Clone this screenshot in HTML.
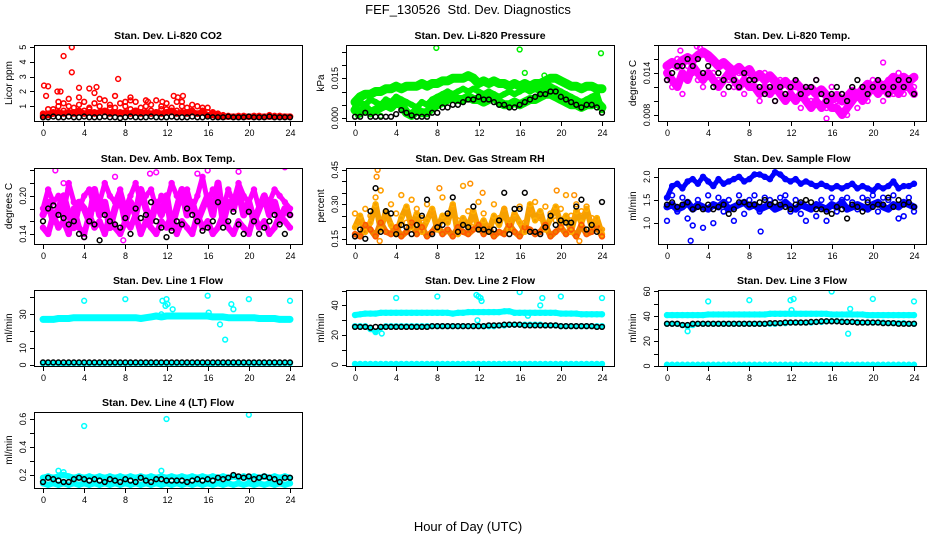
<!DOCTYPE html>
<html><head><meta charset="utf-8"><style>
body{margin:0;background:#fff;}
svg{display:block;font-family:"Liberation Sans",Arial,sans-serif;}
</style></head><body>
<svg id="chart" width="936" height="540" viewBox="0 0 936 540">
<rect width="936" height="540" fill="#fff"/>
<text x="468" y="14" text-anchor="middle" font-size="13" style="white-space:pre">FEF_130526  Std. Dev. Diagnostics</text>
<text x="468" y="531" text-anchor="middle" font-size="13">Hour of Day (UTC)</text>
</svg>
<script>
// ---- data ----
const xTicks = [0,4,8,12,16,20,24];
// CO2
const co2A = [0.3,0.5,0.8,1.0,1.2,1.0,0.9,1.1,1.3,0.9,1.2,1.0,1.4,1.1,0.9,1.2,1.0,0.8,1.3,0.9,1.0,1.1,1.4,1.0,0.8,0.9,1.3,1.0,0.9,1.1,1.0,0.7,0.9,0.6,0.5,0.4,0.35,0.3,0.3,0.35,0.3,0.3,0.35,0.3,0.4,0.3,0.35,0.3,0.3];
const co2B = [0.4,0.8,0.6,1.3,0.7,1.5,0.6,1.6,0.7,0.8,0.6,1.5,0.6,0.9,1.7,0.6,1.3,1.6,0.7,0.6,1.4,0.7,0.6,0.8,1.2,0.6,0.7,1.3,0.6,0.7,0.5,0.9,0.6,0.5,0.4,0.3,0.3,0.3,0.35,0.3,0.3,0.35,0.3,0.3,0.3,0.35,0.3,0.3,0.3];
const co2C = [0.5,0.4,0.5,0.6,0.5,0.6,0.5,0.7,0.5,0.6,0.5,0.6,0.7,0.5,0.6,0.5,0.6,0.5,0.7,0.5,0.6,0.5,0.6,0.5,0.6,0.7,0.5,0.6,0.5,0.6,0.5,0.6,0.4,0.4,0.3,0.3,0.3,0.3,0.3,0.3,0.3,0.3,0.3,0.3,0.3,0.3,0.3,0.3,0.3];
const co2OutX = [0.1,0.5,0.3,1.4,1.7,2.0,2.8,2.8,3.5,4.5,5.0,5.2,7.3,8.5,11.6,12.7,13.1,13.6,10.2];
const co2OutY = [2.4,2.35,1.7,2.0,2.0,4.4,3.3,5.0,2.25,2.2,1.9,2.3,2.85,1.4,1.3,1.7,1.6,1.7,1.3];
const co2K = [0.25,0.25,0.3,0.25,0.25,0.3,0.25,0.25,0.3,0.25,0.25,0.25,0.3,0.25,0.25,0.2,0.25,0.3,0.25,0.25,0.25,0.3,0.25,0.25,0.25,0.3,0.25,0.25,0.25,0.3,0.25,0.25,0.3,0.25,0.25,0.25,0.3,0.25,0.25,0.25,0.3,0.25,0.25,0.25,0.3,0.25,0.25,0.25,0.25];
// Pressure
const prA = [.006,.008,.009,.009,.010,.010,.011,.011,.012,.011,.012,.012,.012,.013,.012,.013,.013,.014,.014,.015,.015,.015,.016,.015,.013,.014,.013,.014,.013,.013,.012,.013,.012,.013,.012,.013,.013,.014,.015,.015,.014,.013,.012,.012,.011,.012,.012,.011,.011];
const prB = [.003,.002,.004,.002,.003,.004,.005,.004,.006,.005,.002,.001,.003,.002,.002,.004,.005,.006,.007,.008,.007,.007,.008,.007,.007,.006,.007,.008,.006,.005,.005,.006,.005,.006,.007,.007,.008,.009,.009,.008,.007,.006,.005,.005,.004,.005,.005,.006,.004];
const prC = [.004,.006,.005,.007,.006,.005,.007,.006,.008,.007,.006,.005,.004,.006,.005,.007,.008,.009,.010,.009,.010,.011,.010,.011,.010,.009,.010,.009,.008,.009,.010,.009,.010,.011,.010,.011,.010,.011,.012,.011,.010,.009,.008,.007,.006,.007,.008,.009,.003];
const prOutX = [7.9,16,23.9,16.5,18.4,0.3,2.5];
const prOutY = [.0264,.0258,.0244,.0170,.0160,.0010,.0008];
const prK = [.0005,.0005,.002,.0005,.0005,.0005,.0005,.0005,.0015,.003,.002,.001,.0005,.0005,.0005,.002,.002,.004,.004,.005,.005,.006,.007,.007,.008,.007,.007,.006,.005,.005,.004,.004,.005,.006,.007,.008,.009,.009,.010,.010,.008,.007,.006,.005,.004,.005,.005,.004,.002];
// Li-820 temp
const ltA = [.0150,.0155,.0150,.0158,.0162,.0158,.0165,.0170,.0165,.0158,.0150,.0155,.0148,.0142,.0148,.0140,.0145,.0132,.0138,.0130,.0136,.0128,.0122,.0128,.0120,.0126,.0118,.0112,.0118,.0110,.0116,.0108,.0102,.0108,.0100,.0106,.0114,.0108,.0116,.0124,.0118,.0126,.0120,.0126,.0134,.0126,.0134,.0128,.0134];
const ltB = [.014,.013,.012,.014,.013,.015,.014,.013,.014,.013,.012,.013,.014,.013,.012,.013,.012,.012,.011,.012,.011,.012,.011,.010,.011,.010,.011,.010,.009,.010,.009,.010,.009,.009,.008,.009,.010,.011,.010,.011,.012,.011,.012,.011,.012,.011,.012,.012,.011];
const ltC = [.013,.012,.016,.011,.015,.014,.013,.012,.016,.014,.013,.011,.013,.012,.014,.011,.013,.012,.010,.014,.012,.010,.013,.011,.012,.012,.009,.012,.010,.013,.011,.009,.012,.010,.011,.008,.011,.009,.012,.010,.013,.012,.010,.013,.011,.014,.011,.013,.012];
const ltOutX = [1.3,2.9,3.2,15.5,21.0];
const ltOutY = [.0172,.0178,.0176,.0075,.0155];
const ltK = [.013,.014,.015,.015,.016,.015,.016,.014,.015,.012,.014,.013,.012,.013,.012,.014,.013,.013,.012,.011,.012,.010,.012,.011,.012,.013,.011,.012,.012,.013,.011,.010,.011,.012,.011,.010,.012,.013,.012,.011,.012,.013,.012,.011,.012,.013,.012,.013,.011];
// Amb box temp
const abA = [.17,.19,.16,.18,.20,.17,.15,.19,.18,.16,.21,.17,.19,.15,.18,.20,.16,.19,.17,.21,.18,.16,.19,.17,.20,.15,.18,.21,.17,.19,.16,.18,.20,.17,.22,.16,.19,.18,.21,.17,.19,.16,.18,.20,.17,.19,.16,.18,.17];
const abB = [.15,.14,.17,.15,.16,.14,.18,.15,.14,.17,.15,.16,.14,.17,.15,.14,.16,.15,.17,.14,.16,.15,.14,.16,.15,.17,.14,.16,.15,.14,.17,.15,.16,.14,.15,.17,.15,.14,.16,.15,.14,.17,.15,.16,.14,.15,.17,.16,.15];
const abC = [.18,.21,.19,.20,.17,.22,.19,.18,.20,.21,.18,.19,.22,.20,.19,.21,.18,.20,.22,.19,.20,.21,.18,.20,.19,.22,.20,.19,.21,.18,.20,.23,.19,.21,.20,.18,.21,.19,.22,.20,.19,.21,.18,.20,.19,.21,.20,.19,.18];
const abOutX = [1.2,10.4,15,16,19,2,7,11,7.8,4,23.5];
const abOutY = [.24,.235,.235,.24,.238,.22,.23,.237,.13,.135,.245];
const abK = [.16,.18,.185,.17,.165,.155,.16,.14,.135,.16,.155,.13,.17,.16,.155,.15,.165,.14,.18,.165,.17,.19,.16,.15,.135,.145,.16,.155,.18,.17,.16,.145,.15,.16,.19,.15,.16,.175,.155,.14,.175,.16,.14,.15,.16,.17,.155,.14,.17];
// Gas stream RH
const rhA = [.20,.25,.18,.22,.30,.19,.27,.21,.17,.24,.29,.20,.26,.18,.23,.28,.19,.25,.22,.30,.17,.24,.20,.27,.19,.23,.18,.25,.21,.28,.19,.26,.22,.18,.30,.23,.27,.19,.24,.29,.21,.25,.18,.27,.22,.28,.20,.24,.17];
const rhB = [.17,.16,.21,.19,.16,.22,.18,.17,.20,.16,.18,.22,.17,.20,.16,.18,.21,.17,.19,.16,.20,.18,.17,.19,.21,.17,.20,.16,.18,.17,.21,.18,.16,.20,.19,.17,.18,.21,.16,.18,.20,.17,.19,.16,.21,.17,.18,.20,.16];
const rhC = [.26,.22,.28,.25,.33,.36,.24,.30,.26,.34,.22,.32,.28,.24,.30,.26,.21,.33,.25,.29,.23,.38,.27,.22,.31,.26,.20,.30,.24,.28,.23,.25,.29,.22,.27,.31,.24,.29,.26,.23,.28,.34,.25,.30,.27,.29,.24,.22,.19];
const rhOutX = [2.2,2.1,8.2,11.2,12.4,19.6,21.3,2.4,21.8];
const rhOutY = [.45,.42,.37,.39,.35,.36,.34,.14,.14];
const rhK = [.16,.19,.15,.27,.37,.18,.27,.26,.17,.21,.20,.17,.21,.25,.32,.17,.20,.21,.26,.33,.18,.21,.20,.29,.19,.19,.18,.19,.23,.35,.17,.28,.28,.35,.18,.18,.17,.20,.25,.21,.23,.22,.22,.29,.32,.19,.21,.18,.31];
// Sample flow
const sfA = [1.35,1.40,1.30,1.35,1.45,1.30,1.40,1.35,1.30,1.40,1.35,1.45,1.30,1.35,1.40,1.45,1.35,1.40,1.30,1.35,1.40,1.30,1.35,1.45,1.35,1.30,1.40,1.35,1.30,1.40,1.35,1.30,1.40,1.35,1.45,1.30,1.35,1.40,1.35,1.30,1.40,1.45,1.35,1.30,1.40,1.35,1.45,1.40,1.35];
const sfB = [1.55,1.80,1.85,1.75,1.90,1.95,1.85,2.00,1.90,1.80,1.95,1.85,1.90,1.95,2.00,1.90,1.95,2.05,2.05,2.00,1.95,2.10,2.05,1.95,1.90,1.95,1.85,1.90,1.85,1.80,1.85,1.80,1.75,1.80,1.75,1.80,1.85,1.75,1.80,1.75,1.70,1.80,1.75,1.80,1.90,1.75,1.80,1.80,1.85];
const sfC = [1.05,1.60,1.25,1.55,1.10,0.95,1.50,0.90,1.60,1.00,1.55,1.25,1.50,1.05,1.60,1.20,1.50,1.60,1.25,1.55,1.50,1.45,1.55,1.60,1.25,1.50,1.20,1.05,1.30,1.15,1.50,1.05,1.55,1.25,1.50,1.55,1.45,1.30,1.55,1.50,1.60,1.25,1.55,1.50,1.60,1.10,1.15,1.55,1.25];
const sfOutX = [2.3,9.1];
const sfOutY = [0.62,0.82];
const sfK = [1.40,1.45,1.35,1.40,1.45,1.30,1.35,1.30,1.40,1.30,1.35,1.40,1.20,1.30,1.45,1.45,1.40,1.40,1.45,1.50,1.40,1.45,1.40,1.35,1.30,1.40,1.45,1.50,1.45,1.30,1.30,1.25,1.20,1.35,1.30,1.10,1.40,1.35,1.25,1.45,1.35,1.40,1.40,1.55,1.35,1.50,1.40,1.45,1.35];
// Line 1 flow
const l1A = [27,27,27,27.5,27.5,27.5,28,28,28,28,28,28,28,28,28,28,28,28,28,27.5,28,28.5,29,28.5,29,29,29,29,29,29,29,29,29,28.5,28.5,28.5,28,28,28,28,28,28,27.5,27.5,27.5,27.5,27,27,27];
const l1B = [1,1,1,1,0.5,1,1,1,1,1,1,1,1,1,1,1,1,1,1,1,1,1,1,1,1,1,1,1,1,1,1,1,0.5,1,1,1,1,1,1,1,1,1,1,1,1,1,1,1,1];
const l1OutX = [4,8,11.6,12,11.9,12.1,12.6,16,16.1,11.5,17.2,18.3,18.5,17.7,20,24];
const l1OutY = [38,39,38,39,35,36,33,41,31,30,24,36,33,15,39,38];
const l1K = [1.5,1.5,1.5,1.5,1.5,1.5,1.5,1.5,1.5,1.5,1.5,1.5,1.5,1.5,1.5,1.5,1.5,1.5,1.5,1.5,1.5,1.5,1.5,1.5,1.5,1.5,1.5,1.5,1.5,1.5,1.5,1.5,1.5,1.5,1.5,1.5,1.5,1.5,1.5,1.5,1.5,1.5,1.5,1.5,1.5,1.5,1.5,1.5,1.5];
// Line 2 flow
const l2A = [33.5,34,34.5,34.5,34.5,35,35,35,35,35,35,35,35,35,35,35,35,35,35,34.5,35,35,35.5,35.5,35.5,35.5,35.5,35.5,35.5,36,36,35,35,35,35,35,35,35,35,35,34.5,34.5,34.5,34.5,34,34,34,34,34];
const l2B = [26,26,26,24,22,25,26,26,26,26,26,26,26,26,26,26,26,26,26,26,26,26,26,26,26,26,26,26,26.5,26.5,27,27,27,27,27,27,27,26.5,26.5,26.5,26,26,26,26,26,26,26,26,26];
const l2C = [0.5,0.5,0.5,0.5,0.5,0.5,0.5,0.5,0.5,0.5,0.5,0.5,0.5,0.5,0.5,0.5,0.5,0.5,0.5,0.5,0.5,0.5,0.5,0.5,0.5,0.5,0.5,0.5,0.5,0.5,0.5,0.5,0.5,0.5,0.5,0.5,0.5,0.5,0.5,0.5,0.5,0.5,0.5,0.5,0.5,0.5,0.5,0.5,0.5];
const l2OutX = [4,8,11.8,12,12.2,12.3,16,18.2,18,20,24,11.9,2.6,16.8];
const l2OutY = [45,46,47,46,45,43,49,45,40,46,45,30,21,33];
const l2K = [25.5,25.5,25.5,25,25.5,25.5,25.5,25.5,25.5,25.5,25.5,25.5,25.5,25.5,25.5,26,26,26,26,26,26,26,26,26,26,26,26.5,26.5,26.5,27,27,27,27,26.5,26.5,26.5,26.5,26.5,26.5,26.5,26,26,26,26,26,26,26,25.5,25.5];
// Line 3 flow
const l3A = [41,41,41,41,41,41,41,41,41.5,41.5,41.5,41.5,41.5,41.5,41.5,41.5,41.5,41.5,41.5,41.5,42,42,42,42,42,42,42,42,42,42,42,42,41.5,41.5,41.5,41.5,41.5,41.5,41.5,41,41,41,41,41,41,41,41,41,41];
const l3B = [34,34,34,33,32,33,34,34,34,34,34,34,34,34,34,34,34,34,34,34,34,34,34.5,34.5,35,35,35,35,35,35.5,35.5,36,36,36,36,35.5,35.5,35.5,35,35,35,35,35,34.5,34.5,34.5,34.5,34,34];
const l3C = [1,1,1,1,1,1,1,1,1,1,1,1,1,1,1,1,1,1,1,1,1,1,1,1,1,1,1,1,1,1,1,1,1,1,1,1,1,1,1,1,1,1,1,1,1,1,1,1,1];
const l3OutX = [4,8,12,12.3,16,20,24,2,17.6,17.8,12.1];
const l3OutY = [52,53,53,54,60,54,52,28,26,46,45];
const l3K = [34,34,34,33,33,34,34,34,34,34,34,34,34,34,34,34,34,34,34,34,34.5,34.5,34.5,35,35,35,35,35,35.5,35.5,36,36,36,36,35.5,35.5,35.5,35,35,35,35,35,34.5,34.5,34.5,34,34,34,34];
// Line 4 flow
const l4A = [.18,.19,.18,.19,.20,.19,.18,.19,.18,.19,.18,.19,.18,.19,.18,.19,.18,.19,.18,.19,.18,.19,.18,.19,.18,.19,.18,.19,.18,.19,.18,.19,.18,.19,.18,.19,.18,.19,.18,.19,.18,.19,.18,.19,.18,.19,.18,.19,.18];
const l4B = [.14,.13,.14,.13,.14,.13,.14,.13,.14,.13,.14,.13,.14,.13,.14,.13,.14,.13,.14,.13,.14,.13,.14,.13,.14,.13,.14,.13,.14,.13,.14,.13,.14,.13,.14,.13,.14,.13,.14,.13,.14,.13,.14,.13,.14,.13,.14,.13,.14];
const l4OutX = [4,12,20,1.5,2,11.5];
const l4OutY = [0.55,0.60,0.63,0.23,0.22,0.23];
const l4K = [.15,.18,.17,.16,.15,.15,.17,.18,.17,.16,.17,.16,.15,.17,.16,.15,.17,.16,.15,.18,.16,.15,.17,.17,.16,.16,.16,.16,.15,.16,.17,.16,.17,.16,.18,.17,.18,.20,.19,.18,.19,.17,.18,.19,.18,.17,.15,.18,.18];

// ---- drawing ----
const NS = "http://www.w3.org/2000/svg";
const svg = document.getElementById("chart");
function mk(tag, attrs, parent){
  const e = document.createElementNS(NS, tag);
  for (const k in attrs) e.setAttribute(k, attrs[k]);
  (parent||svg).appendChild(e);
  return e;
}
function hourAt(i, n){ return i * 24 / (n - 1); }

const panels = [
 {key:"co2", title:"Stan. Dev. Li-820 CO2", ylab:"Licor ppm", col:0, row:0, y0:0, y1:5.15, ticks:[1,2,3,4,5], labels:[1,2,3,4,5], fmt:v=>String(v),
  bands:[[co2A,"#ff0000"],[co2B,"#ff0000"],[co2C,"#ff0000"]], thick:[[co2C,"#ff0000",6]], out:[co2OutX,co2OutY,"#ff0000"], black:co2K},
 {key:"pressure", title:"Stan. Dev. Li-820 Pressure", ylab:"kPa", col:1, row:0, y0:-0.0011, y1:0.0275, ticks:[0,.005,.01,.015,.02,.025], labels:[0,.015], fmt:v=>v.toFixed(3),
  bands:[[prA,"#00ee00"],[prB,"#00ee00"],[prC,"#00ee00"]], thick:[[prA,"#00ee00",9],[prB,"#00ee00",9],[prC,"#00ee00",6]], out:[prOutX,prOutY,"#00ee00"], black:prK},
 {key:"li820-temp", title:"Stan. Dev. Li-820 Temp.", ylab:"degrees C", col:2, row:0, y0:0.00714, y1:0.0180, ticks:[.008,.010,.012,.014,.016,.018], labels:[.008,.014], fmt:v=>v.toFixed(3),
  bands:[[ltA,"#ff00ff"],[ltB,"#ff00ff"],[ltC,"#ff00ff"]], thick:[[ltA,"#ff00ff",9],[ltB,"#ff00ff",8]], out:[ltOutX,ltOutY,"#ff00ff"], black:ltK},
 {key:"amb-box-temp", title:"Stan. Dev. Amb. Box Temp.", ylab:"degrees C", col:0, row:1, y0:0.1242, y1:0.2438, ticks:[.14,.16,.18,.20,.22,.24], labels:[.14,.20], fmt:v=>v.toFixed(2),
  bands:[[abA,"#ff00ff"],[abB,"#ff00ff"],[abC,"#ff00ff"]], thick:[[abA,"#ff00ff",7],[abB,"#ff00ff",6],[abC,"#ff00ff",5]], out:[abOutX,abOutY,"#ff00ff"], black:abK},
 {key:"gas-rh", title:"Stan. Dev. Gas Stream RH", ylab:"percent", col:1, row:1, y0:0.127, y1:0.458, ticks:[.15,.20,.25,.30,.35,.40,.45], labels:[.15,.30,.45], fmt:v=>v.toFixed(2),
  bands:[[rhA,"#ffb000"],[rhB,"#ff5500"],[rhC,"#ffa000"]], thick:[[rhA,"#f5a000",6],[rhB,"#f08000",6]], out:[rhOutX,rhOutY,"#ff9000"], black:rhK},
 {key:"sample-flow", title:"Stan. Dev. Sample Flow", ylab:"ml/min", col:2, row:1, y0:0.55, y1:2.19, ticks:[1,1.5,2], labels:[1,1.5,2], fmt:v=>v.toFixed(1),
  bands:[[sfA,"#0000ff"],[sfB,"#0000ff"],[sfC,"#0000ff"]], thick:[[sfA,"#0000ff",7],[sfB,"#0000ff",5]], out:[sfOutX,sfOutY,"#0000ff"], black:sfK},
 {key:"line1-flow", title:"Stan. Dev. Line 1 Flow", ylab:"ml/min", col:0, row:2, y0:-0.6, y1:44.4, ticks:[0,10,20,30,40], labels:[0,10,30], fmt:v=>String(v),
  bands:[[l1A,"#00ffff"],[l1B,"#00ffff"]], thick:[[l1A,"#00ffff",7],[l1B,"#00ffff",4]], out:[l1OutX,l1OutY,"#00ffff"], black:l1K},
 {key:"line2-flow", title:"Stan. Dev. Line 2 Flow", ylab:"ml/min", col:1, row:2, y0:-0.9, y1:50.4, ticks:[0,10,20,30,40,50], labels:[0,20,40], fmt:v=>String(v),
  bands:[[l2A,"#00ffff"],[l2B,"#00ffff"],[l2C,"#00ffff"]], thick:[[l2A,"#00ffff",6],[l2B,"#00ffff",4],[l2C,"#00ffff",4]], out:[l2OutX,l2OutY,"#00ffff"], black:l2K},
 {key:"line3-flow", title:"Stan. Dev. Line 3 Flow", ylab:"ml/min", col:2, row:2, y0:0, y1:61.2, ticks:[0,10,20,30,40,50,60], labels:[0,20,40,60], fmt:v=>String(v),
  bands:[[l3A,"#00ffff"],[l3B,"#00ffff"],[l3C,"#00ffff"]], thick:[[l3A,"#00ffff",6],[l3B,"#00ffff",4],[l3C,"#00ffff",4]], out:[l3OutX,l3OutY,"#00ffff"], black:l3K},
 {key:"line4-flow", title:"Stan. Dev. Line 4 (LT) Flow", ylab:"ml/min", col:0, row:3, y0:0.107, y1:0.650, ticks:[.2,.3,.4,.5,.6], labels:[.2,.4,.6], fmt:v=>v.toFixed(1),
  bands:[[l4A,"#00ffff"],[l4B,"#00ffff"]], thick:[[l4A,"#00ffff",6],[l4B,"#00ffff",6]], out:[l4OutX,l4OutY,"#00ffff"], black:l4K}
];

const colLeft = [34, 346, 658];
const rowTop = [45, 168, 290, 412];
const W = 268, H = 76;

panels.forEach(p => {
  const L = colLeft[p.col], T = rowTop[p.row], B = T + H, R = L + W;
  const g = mk("g", {});
  
  
  const xs = h => L + 9 + h * (247 / 24);
  const ys = v => B - (v - p.y0) / (p.y1 - p.y0) * H;
  const clip = "clip-" + p.key;
  const cp = mk("clipPath", {id: clip}, g);
  mk("rect", {x: L, y: T, width: W, height: H}, cp);
  const marks = mk("g", {"clip-path": "url(#" + clip + ")"}, g);
  
  
  p.thick.forEach(([arr, col, w]) => {
    const pts = arr.map((v, i) => xs(hourAt(i, arr.length)).toFixed(1) + "," + ys(v).toFixed(1)).join(" ");
    const pl = mk("polyline", {points: pts, fill: "none", stroke: col, "stroke-width": w, "stroke-linejoin": "round", "stroke-linecap": "round"}, marks);
    
    
  });
  p.bands.forEach(([arr, col]) => {
    arr.forEach((v, i) => {
      const c = mk("circle", {cx: xs(hourAt(i, arr.length)), cy: ys(v), r: 2.4, fill: "none", stroke: col, "stroke-width": 1.6}, marks);
      
      
    });
  });
  const [ox, oy, oc] = p.out;
  for (let i = 0; i < Math.min(ox.length, oy.length); i++) {
    const c = mk("circle", {cx: xs(ox[i]), cy: ys(oy[i]), r: 2.4, fill: "none", stroke: oc, "stroke-width": 1.5}, marks);
    
    
  }
  p.black.forEach((v, i) => {
    const c = mk("circle", {cx: xs(hourAt(i, p.black.length)), cy: ys(v), r: 2.4, fill: "none", stroke: "#000", "stroke-width": 1.5}, marks);
    
    
  });
  const fr = mk("rect", {x: L + 0.5, y: T + 0.5, width: W, height: H, fill: "none", stroke: "#000", "stroke-width": 1}, g);
  
  
  xTicks.forEach(t => {
    const x = Math.round(xs(t)) + 0.5;
    const tk = mk("line", {x1: x, x2: x, y1: B, y2: B + 5, stroke: "#000"}, g);
    
    
    const tl = mk("text", {x: x, y: B + 15, "text-anchor": "middle", "font-size": 9}, g);
    
    
    tl.textContent = t;
  });
  p.ticks.forEach(t => {
    const y = Math.round(ys(t)) + 0.5;
    const tk = mk("line", {x1: L - 4, x2: L, y1: y, y2: y, stroke: "#000"}, g);
    
    
  });
  p.labels.forEach(t => {
    const y = ys(t);
    const tl = mk("text", {x: 0, y: 0, "text-anchor": "middle", "font-size": 9, transform: "translate(" + (L - 8) + "," + y + ") rotate(-90)"}, g);
    
    
    tl.textContent = p.fmt(t);
  });
  const yt = mk("text", {x: 0, y: 0, "text-anchor": "middle", "font-size": 10, transform: "translate(" + (L - 22) + "," + (T + H / 2) + ") rotate(-90)"}, g);
  
  
  yt.textContent = p.ylab;
  const tt = mk("text", {x: L + W / 2, y: T - 6, "text-anchor": "middle", "font-size": 10.5, "font-weight": "bold"}, g);
  
  
  tt.textContent = p.title;
});
</script>
</body></html>
